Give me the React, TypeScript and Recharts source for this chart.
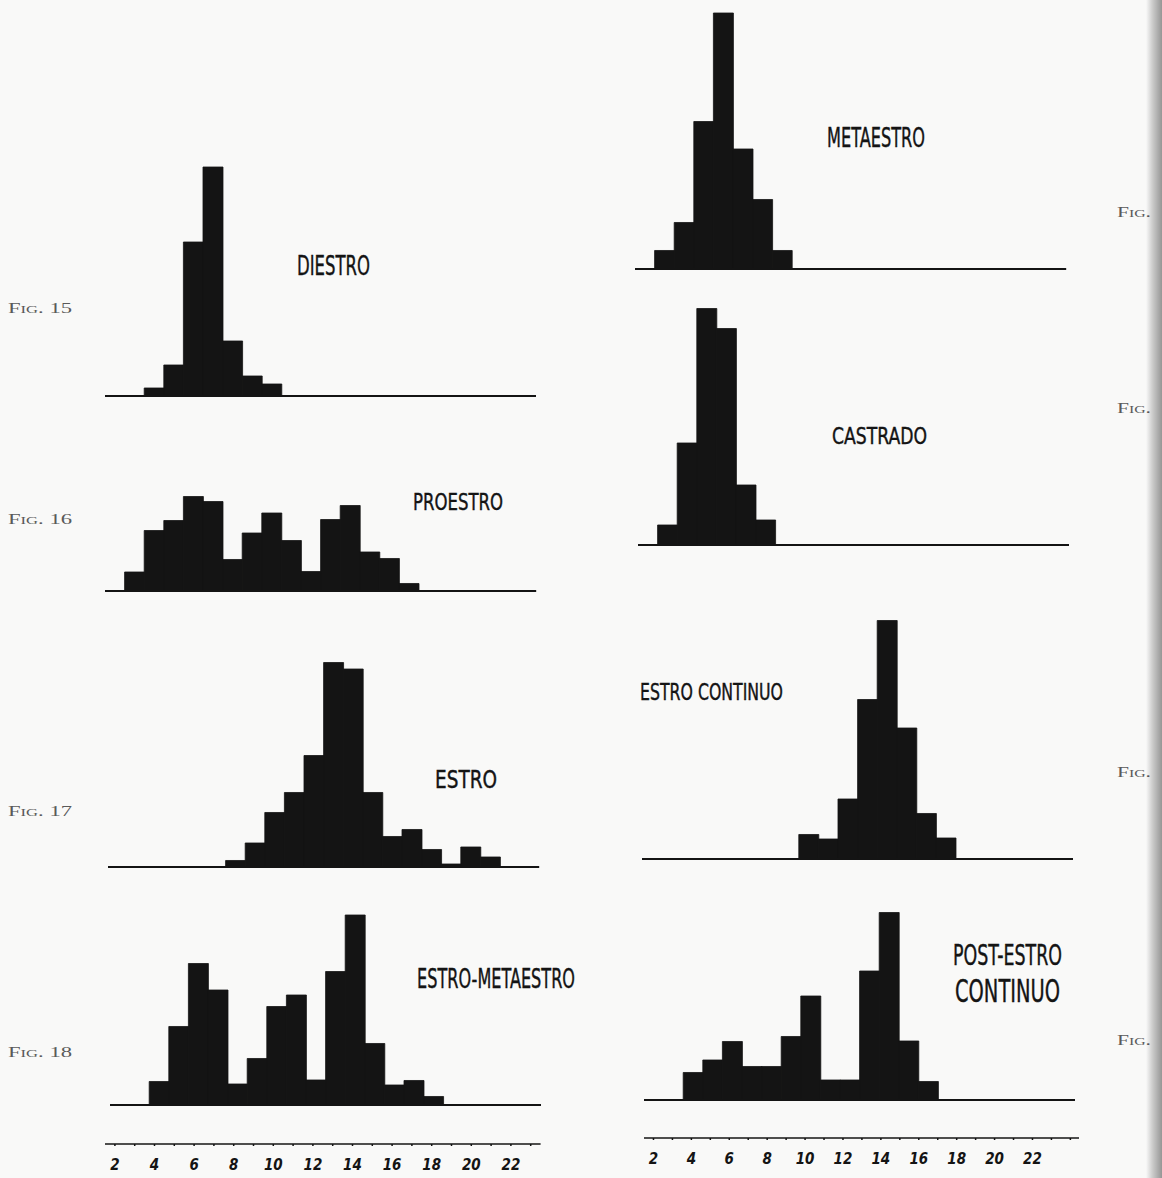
import React from 'react';
import { BarChart, Bar, XAxis, YAxis, ReferenceLine } from 'recharts';

// ---- data ----
const categories = [2, 3, 4, 5, 6, 7, 8, 9, 10, 11, 12, 13, 14, 15, 16, 17, 18, 19, 20, 21, 22, 23];
const axisCategoriesLeft = [2, 3, 4, 5, 6, 7, 8, 9, 10, 11, 12, 13, 14, 15, 16, 17, 18, 19, 20, 21, 22, 23];
const axisCategoriesRight = [2, 3, 4, 5, 6, 7, 8, 9, 10, 11, 12, 13, 14, 15, 16, 17, 18, 19, 20, 21, 22, 23, 24];

const diestroBins = [4, 5, 6, 7, 8, 9, 10];
const diestroValues = [1.6, 6.2, 30.8, 45.8, 11, 4, 2.4];

const proestroBins = [3, 4, 5, 6, 7, 8, 9, 10, 11, 12, 13, 14, 15, 16, 17];
const proestroValues = [3.8, 12.1, 14.1, 18.9, 17.9, 6.3, 11.6, 15.6, 10.1, 3.9, 14.3, 17.1, 7.8, 6.5, 1.5];

const estroBins = [8, 9, 10, 11, 12, 13, 14, 15, 16, 17, 18, 19, 20, 21];
const estroValues = [1.3, 4.8, 10.9, 14.9, 22.3, 40.9, 39.6, 14.9, 6.1, 7.5, 3.5, 0.6, 4, 2];

const estroMetaestroBins = [4, 5, 6, 7, 8, 9, 10, 11, 12, 13, 14, 15, 16, 17, 18];
const estroMetaestroValues = [4.7, 15.7, 28.3, 23, 4.2, 9.3, 19.7, 22, 5, 26.7, 38, 12.3, 4, 4.9, 1.7];

const metaestroBins = [3, 4, 5, 6, 7, 8, 9];
const metaestroValues = [3.7, 9.3, 29.5, 51.2, 24, 13.9, 3.7];

const castradoBins = [3, 4, 5, 6, 7, 8];
const castradoValues = [4, 20.4, 47.3, 43.3, 12, 5];

const estroContinuoBins = [10, 11, 12, 13, 14, 15, 16, 17];
const estroContinuoValues = [4.9, 4, 12, 31.9, 47.7, 26.2, 9.1, 4.2];

const postEstroBins = [4, 5, 6, 7, 8, 9, 10, 11, 12, 13, 14, 15, 16];
const postEstroValues = [5.5, 8, 11.7, 6.7, 6.7, 12.7, 20.8, 4, 4, 25.8, 37.5, 11.8, 3.7];

const tickLabels = [2, 4, 6, 8, 10, 12, 14, 16, 18, 20, 22];

// ---- layout ----
const PX_PER_UNIT = 5;
const CAT_W = 19.6;
const INK = '#141414';

const buildData = (bins: number[], values: number[]) =>
  categories.map((c) => {
    const i = bins.indexOf(c);
    return { bin: c, value: i >= 0 ? values[i] : 0 };
  });

function Histogram({ left, baseline, height, bins, values }: any) {
  const data = buildData(bins, values);
  const width = categories.length * CAT_W;
  return (
    <div style={{ position: 'absolute', left, top: baseline - height }}>
      <BarChart
        width={width}
        height={height + 4}
        data={data}
        margin={{ top: 0, right: 0, bottom: 4, left: 0 }}
        barCategoryGap={0}
        barGap={0}
      >
        <XAxis dataKey="bin" hide />
        <YAxis hide domain={[0, height / PX_PER_UNIT]} allowDataOverflow />
        <Bar dataKey="value" fill={INK} stroke={INK} strokeWidth={0.8} isAnimationActive={false} />
        <ReferenceLine y={0} stroke={INK} strokeWidth={2} />
      </BarChart>
    </div>
  );
}

function ScaleAxis({ left, lineY, cats, catW }: any) {
  const data = cats.map((c: number) => ({ bin: c, value: 0 }));
  const plotH = 10;
  return (
    <div style={{ position: 'absolute', left, top: lineY - plotH }}>
      <BarChart width={cats.length * catW} height={plotH + 36} data={data} margin={{ top: 0, right: 0, bottom: 0, left: 0 }}>
        <XAxis
          dataKey="bin"
          interval={0}
          height={36}
          axisLine={{ stroke: INK, strokeWidth: 1.6 }}
          tickLine={{ stroke: INK, strokeWidth: 1.5 }}
          tickSize={2}
          tickMargin={13}
          tickFormatter={(v: number) => (tickLabels.includes(v) ? String(v) : '')}
          tick={{ fill: INK, fontSize: 15, fontWeight: 'bold', fontStyle: 'italic', fontFamily: 'DejaVu Sans Condensed, DejaVu Sans' }}
        />
        <YAxis hide domain={[0, 1]} />
        <Bar dataKey="value" fill={INK} isAnimationActive={false} />
      </BarChart>
    </div>
  );
}

const labelFont = 'DejaVu Sans Condensed, DejaVu Sans, sans-serif';

function Lettering({ x, y, len, cap, children }: any) {
  return (
    <text
      x={x}
      y={y}
      textLength={len}
      lengthAdjust="spacingAndGlyphs"
      fontSize={cap / 0.729}
      fontFamily={labelFont}
      fill={INK}
      stroke={INK}
      strokeWidth={0.4}
    >
      {children}
    </text>
  );
}

function FigLabel({ x, y, len, children }: any) {
  return (
    <text
      x={x}
      y={y}
      textLength={len}
      lengthAdjust="spacingAndGlyphs"
      fontSize={15}
      fontFamily="Liberation Serif, DejaVu Serif, serif"
      fill="#5a5a5a"
      style={{ fontVariant: 'small-caps' }}
    >
      {children}
    </text>
  );
}

export default function App() {
  return (
    <div style={{ position: 'relative', width: 1162, height: 1178, background: '#f9f9f8', overflow: 'hidden' }}>
      <style>{'body{margin:0}'}</style>

      {/* left column */}
      <Histogram left={104.8} baseline={396} height={236} bins={diestroBins} values={diestroValues} />
      <Histogram left={105.4} baseline={590.5} height={104} bins={proestroBins} values={proestroValues} />
      <Histogram left={108.4} baseline={867} height={212} bins={estroBins} values={estroValues} />
      <Histogram left={109.8} baseline={1105} height={198} bins={estroMetaestroBins} values={estroMetaestroValues} />

      {/* right column */}
      <Histogram left={635.4} baseline={269} height={262} bins={metaestroBins} values={metaestroValues} />
      <Histogram left={637.7} baseline={545} height={244} bins={castradoBins} values={castradoValues} />
      <Histogram left={641.5} baseline={859} height={246} bins={estroContinuoBins} values={estroContinuoValues} />
      <Histogram left={644.1} baseline={1100} height={196} bins={postEstroBins} values={postEstroValues} />

      {/* scales */}
      <ScaleAxis left={105.1} lineY={1144} cats={axisCategoriesLeft} catW={19.8} />
      <ScaleAxis left={643.5} lineY={1138} cats={axisCategoriesRight} catW={18.95} />

      <svg width={1162} height={1178} style={{ position: 'absolute', left: 0, top: 0, pointerEvents: 'none' }}>
        <Lettering x={297} y={275} len={73} cap={20}>DIESTRO</Lettering>
        <Lettering x={413} y={510} len={90} cap={17}>PROESTRO</Lettering>
        <Lettering x={435} y={788} len={62} cap={18}>ESTRO</Lettering>
        <Lettering x={417} y={988} len={158} cap={20}>ESTRO-METAESTRO</Lettering>
        <Lettering x={827} y={147} len={98} cap={20}>METAESTRO</Lettering>
        <Lettering x={832} y={444} len={95} cap={17}>CASTRADO</Lettering>
        <Lettering x={640} y={700} len={143} cap={17}>ESTRO CONTINUO</Lettering>
        <Lettering x={953} y={965} len={109} cap={21}>POST-ESTRO</Lettering>
        <Lettering x={955} y={1002} len={105} cap={23}>CONTINUO</Lettering>

        <FigLabel x={8} y={313} len={64}>Fig. 15</FigLabel>
        <FigLabel x={8} y={524} len={64}>Fig. 16</FigLabel>
        <FigLabel x={8} y={816} len={64}>Fig. 17</FigLabel>
        <FigLabel x={8} y={1057} len={64}>Fig. 18</FigLabel>

        <FigLabel x={1117} y={217} len={34}>Fig.</FigLabel>
        <FigLabel x={1117} y={413} len={34}>Fig.</FigLabel>
        <FigLabel x={1117} y={777} len={34}>Fig.</FigLabel>
        <FigLabel x={1117} y={1045} len={34}>Fig.</FigLabel>
      </svg>

      <div
        style={{
          position: 'absolute',
          left: 1146,
          top: 0,
          width: 16,
          height: 1178,
          background: 'linear-gradient(to right, rgba(0,0,0,0), rgba(0,0,0,0.18) 40%, rgba(0,0,0,0.4))',
        }}
      />
    </div>
  );
}
